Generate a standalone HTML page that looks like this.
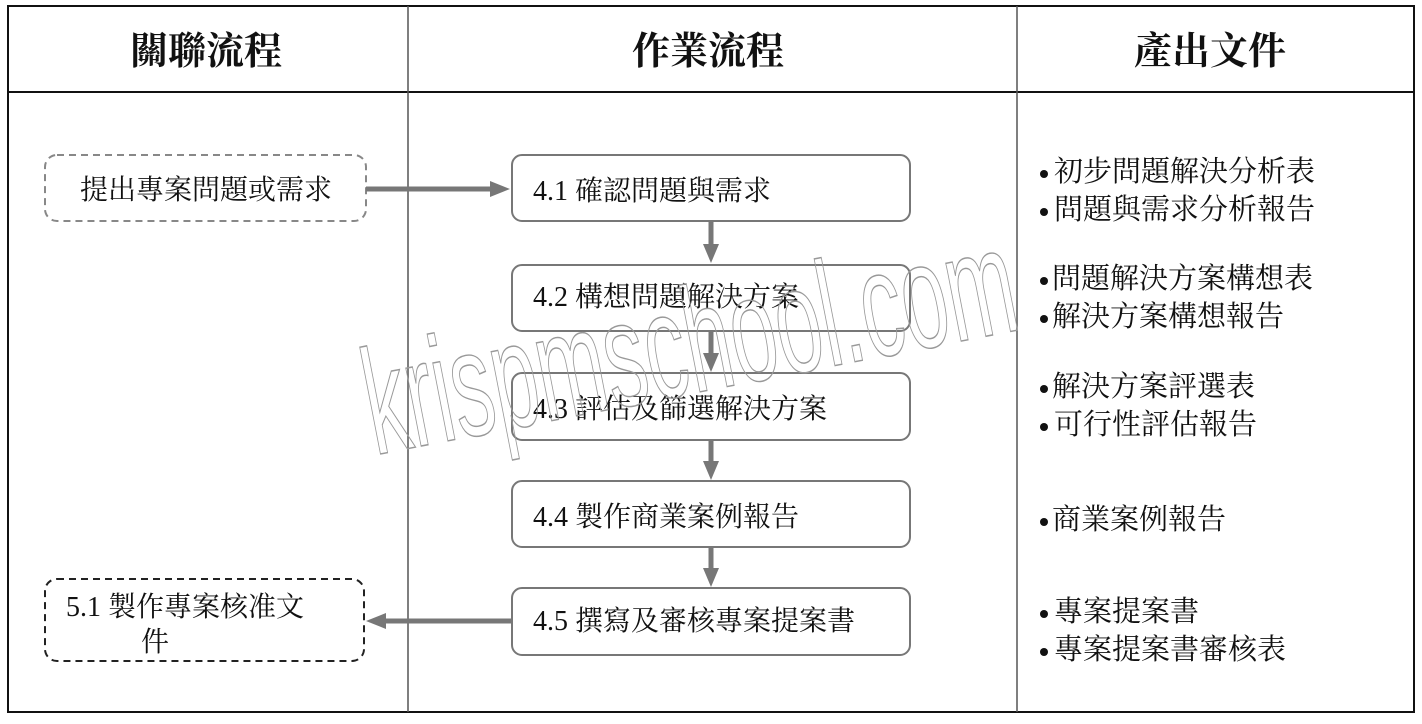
<!DOCTYPE html>
<html><head><meta charset="utf-8"><style>
html,body{margin:0;padding:0;background:#fff;}
svg{display:block;}
.h{font-family:"Liberation Serif","Noto Serif CJK SC",serif;font-size:38px;font-weight:bold;fill:#111;}
.t{font-family:"Liberation Serif","Noto Serif CJK SC",serif;font-size:28px;fill:#111;}
.r{font-family:"Liberation Serif","Noto Serif CJK SC",serif;font-size:29px;fill:#111;}
</style></head><body>
<svg width="1422" height="724" viewBox="0 0 1422 724">
<rect x="8" y="6" width="1406" height="706" fill="#fff" stroke="#111" stroke-width="2"/>
<line x1="8" y1="92" x2="1414" y2="92" stroke="#111" stroke-width="2"/>
<line x1="408" y1="6" x2="408" y2="712" stroke="#555" stroke-width="1.5"/>
<line x1="1017" y1="6" x2="1017" y2="712" stroke="#555" stroke-width="1.5"/>
<text class="h" x="206" y="64" text-anchor="middle">關聯流程</text>
<text class="h" x="708" y="64" text-anchor="middle">作業流程</text>
<text class="h" x="1210" y="64" text-anchor="middle">產出文件</text>

<g fill="#fff" stroke="#777" stroke-width="2">
<rect x="512" y="155" width="398" height="66" rx="10"/>
<rect x="512" y="265" width="398" height="66" rx="10"/>
<rect x="512" y="373" width="398" height="67" rx="10"/>
<rect x="512" y="481" width="398" height="66" rx="10"/>
<rect x="512" y="588" width="398" height="67" rx="10"/>
</g>
<rect x="45" y="155" width="321" height="66" rx="12" fill="#fff" stroke="#888" stroke-width="2" stroke-dasharray="7,5"/>
<rect x="45" y="579" width="319" height="82" rx="12" fill="#fff" stroke="#222" stroke-width="2" stroke-dasharray="7,5"/>

<g stroke="#777" stroke-width="5" fill="#777">
<line x1="366" y1="189" x2="490" y2="189"/>
<polygon points="490,181 510,189 490,197" stroke="none"/>
<line x1="511" y1="621" x2="386" y2="621"/>
<polygon points="386,613 366,621 386,629" stroke="none"/>
<line x1="711" y1="221" x2="711" y2="245"/><polygon points="703,244 711,263 719,244" stroke="none"/>
<line x1="711" y1="331" x2="711" y2="354"/><polygon points="703,353 711,372 719,353" stroke="none"/>
<line x1="711" y1="440" x2="711" y2="462"/><polygon points="703,461 711,480 719,461" stroke="none"/>
<line x1="711" y1="547" x2="711" y2="569"/><polygon points="703,568 711,587 719,568" stroke="none"/>
</g>

<text class="t" x="206" y="199" text-anchor="middle">提出專案問題或需求</text>
<text class="t" x="66" y="616">5.1 製作專案核准文</text>
<text class="t" x="141" y="651">件</text>
<text class="t" x="533" y="200">4.1 確認問題與需求</text>
<text class="t" x="533" y="306">4.2 構想問題解決方案</text>
<text class="t" x="533" y="418">4.3 評估及篩選解決方案</text>
<text class="t" x="533" y="526">4.4 製作商業案例報告</text>
<text class="t" x="533" y="630">4.5 撰寫及審核專案提案書</text>

<g fill="#111">
<circle cx="1044" cy="174" r="4"/><circle cx="1044" cy="212" r="4"/>
<circle cx="1044" cy="281" r="4"/><circle cx="1044" cy="319" r="4"/>
<circle cx="1044" cy="389" r="4"/><circle cx="1044" cy="427" r="4"/>
<circle cx="1044" cy="522" r="4"/>
<circle cx="1044" cy="614" r="4"/><circle cx="1044" cy="652" r="4"/>
</g>
<text class="r" x="1054" y="181">初步問題解決分析表</text>
<text class="r" x="1054" y="219">問題與需求分析報告</text>
<text class="r" x="1052" y="288">問題解決方案構想表</text>
<text class="r" x="1052" y="326">解決方案構想報告</text>
<text class="r" x="1052" y="396">解決方案評選表</text>
<text class="r" x="1054" y="434">可行性評估報告</text>
<text class="r" x="1052" y="529">商業案例報告</text>
<text class="r" x="1054" y="621">專案提案書</text>
<text class="r" x="1054" y="659">專案提案書審核表</text>

<text x="375" y="455" transform="rotate(-11 375 455)" font-size="150" fill="none" stroke="#999" stroke-width="1.5" textLength="660" lengthAdjust="spacingAndGlyphs" style="font-family:'Liberation Sans Narrow','Liberation Sans',sans-serif">krispmschool.com</text>
</svg>
</body></html>
